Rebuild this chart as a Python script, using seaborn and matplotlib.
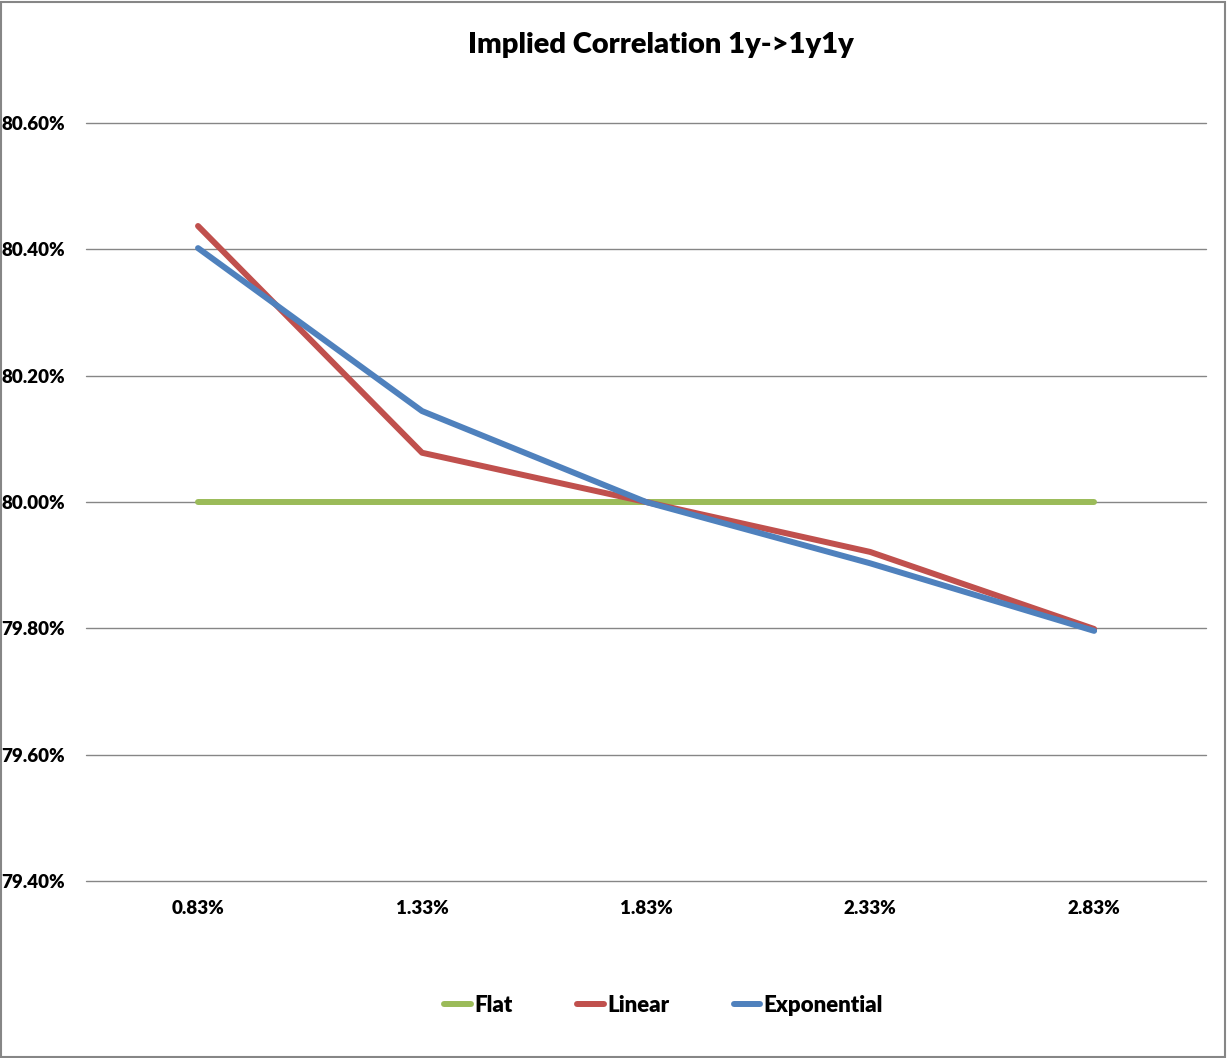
import pandas as pd
import seaborn as sns
import matplotlib.pyplot as plt
from matplotlib.patches import Rectangle
from matplotlib.ticker import FuncFormatter

x_labels = ['0.83%', '1.33%', '1.83%', '2.33%', '2.83%']
flat = [80.000, 80.000, 80.000, 80.000, 80.000]
linear = [80.437, 80.078, 80.000, 79.921, 79.799]
exponential = [80.402, 80.144, 80.000, 79.903, 79.796]
series_names = ['Flat', 'Linear', 'Exponential']
colors = ['#9BBB59', '#C0504D', '#4F81BD']

df = pd.concat([
    pd.DataFrame({'x': x_labels, 'corr': vals, 'series': name})
    for name, vals in zip(series_names, [flat, linear, exponential])
])

sns.set_theme(style='white')
plt.rcParams['font.family'] = ['Lato', 'DejaVu Sans']
plt.rcParams['font.weight'] = 'heavy'
plt.rcParams['text.color'] = 'black'
plt.rcParams['xtick.color'] = 'black'
plt.rcParams['ytick.color'] = 'black'

fig = plt.figure(figsize=(12.27, 10.58), dpi=100)
ax = fig.add_axes([0.0701, 0.1673, 0.9129, 0.7164])

sns.lineplot(data=df, x='x', y='corr', hue='series', palette=colors,
             linewidth=4.3, ax=ax, sort=False, solid_capstyle='round')

ax.set_xlim(-0.5, 4.5)
ax.set_ylim(79.4, 80.6)
ax.set_yticks([79.4, 79.6, 79.8, 80.0, 80.2, 80.4, 80.6])
ax.yaxis.set_major_formatter(FuncFormatter(lambda v, p: f'{v:.2f}%'))
ax.grid(axis='y', color='#868686', linewidth=1)
ax.set_axisbelow(True)
for g in ax.get_ygridlines():
    g.set_clip_on(False)
for s in ax.spines.values():
    s.set_visible(False)
ax.tick_params(axis='y', length=0, pad=15, labelsize=13.5, labelcolor='black')
ax.tick_params(axis='x', length=0, pad=14, labelsize=13.5, labelcolor='black')
for t in ax.get_xticklabels() + ax.get_yticklabels():
    t.set_fontweight('heavy')
ax.set_xlabel('')
ax.set_ylabel('')

fig.text(0.539, 0.957, 'Implied Correlation 1y->1y1y', ha='center', va='center',
         fontsize=21, fontweight='heavy', color='black')

sns.move_legend(ax, 'center', bbox_to_anchor=(0.541, 0.05),
                bbox_transform=fig.transFigure, ncol=3, frameon=False,
                title=None, fontsize=16, handlelength=1.2, handletextpad=0.15,
                columnspacing=2.9)
for h in ax.get_legend().legend_handles:
    h.set_linewidth(4.3)
    h.set_solid_capstyle('round')
for t in ax.get_legend().get_texts():
    t.set_fontweight('heavy')
    t.set_color('black')

fig.patches.append(Rectangle((0.0005, 0.0005), 0.998, 0.998, transform=fig.transFigure,
                             fill=False, edgecolor='#868686', linewidth=1.5))

fig.savefig('out.png', dpi=100)
